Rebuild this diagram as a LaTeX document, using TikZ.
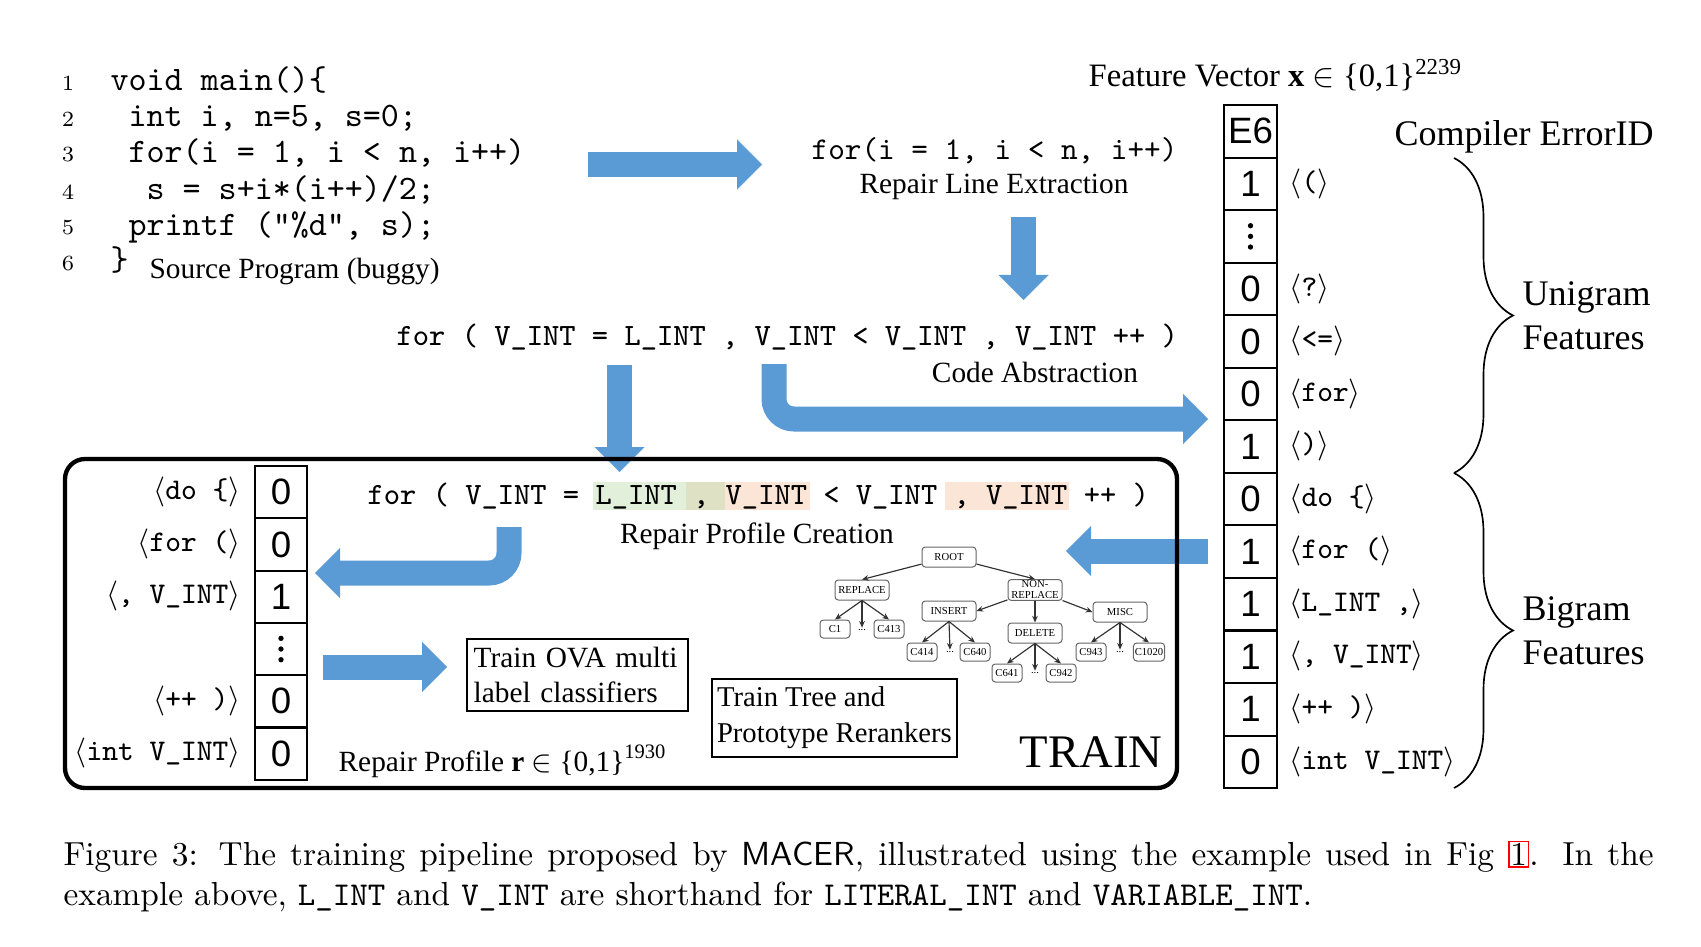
\documentclass[tikz,border=0pt]{standalone}
\usepackage{fontspec}
\newfontfamily\timesfont{Liberation Serif}
\newfontfamily\arialfont{Liberation Sans}
\usetikzlibrary{arrows.meta, calc, positioning, backgrounds, decorations.pathreplacing}
\definecolor{arrowblue}{HTML}{5B9BD5}
\definecolor{hlgreen}{HTML}{E2EFDA}
\definecolor{hlorange}{HTML}{FBE5D6}
\definecolor{hlmix}{HTML}{DEE1C3}
\setlength{\fboxsep}{0.2pt}
\setlength{\fboxrule}{0.5pt}
\tikzset{src line/.style={font=\ttfamily\fontsize{10.3}{12}\selectfont,anchor=mid west,inner sep=0pt}}
\tikzset{line number/.style={font=\fontsize{6.5}{7}\selectfont,inner sep=0pt}}
\tikzset{abs line/.style={font=\ttfamily\fontsize{9.3}{11}\selectfont,anchor=mid west,inner sep=0pt}}
\tikzset{stage label/.style={font=\timesfont\fontsize{8.8}{10.5}\selectfont,inner sep=0pt}}
\tikzset{big label/.style={font=\timesfont\fontsize{10.8}{13.2}\selectfont,inner sep=0pt}}
\tikzset{vec cell/.style={draw,line width=0.6pt,minimum width=15.8pt,minimum height=15.75pt,inner sep=0pt,font=\arialfont\fontsize{11}{13}\selectfont}}
\tikzset{feat label/.style={font=\ttfamily\fontsize{9}{11}\selectfont,inner sep=0pt}}
\tikzset{task box/.style={draw,line width=0.6pt,anchor=north west,align=left,inner xsep=2pt,inner ysep=2.4pt,font=\timesfont\fontsize{8.8}{10.5}\selectfont}}
\tikzset{tree node/.style={draw=black!60,rounded corners=1pt,line width=0.3pt,minimum width=16.2pt,minimum height=6pt,inner sep=0.4pt,align=center,font=\timesfont\fontsize{3.2}{3.3}\selectfont}}
\tikzset{leaf node/.style={tree node,minimum width=9pt,minimum height=5.4pt}}
\tikzset{tree dots/.style={inner sep=0.3pt,font=\timesfont\fontsize{3.2}{3.3}\selectfont}}
\tikzset{tree edge/.style={-{Stealth[length=2pt,width=1.7pt]},line width=0.35pt,black!80}}
\tikzset{block arrow/.style={draw=arrowblue,line width=7.5pt,-{Triangle[width=15pt,length=7.5pt,line width=0.01pt]}}}
\tikzset{feat brace/.style={decorate,decoration={brace,amplitude=17.7pt,aspect=0.5},line width=0.5pt}}

\begin{document}
\begin{tikzpicture}[x=0.3pt,y=-0.3pt]
\useasboundingbox (0,0) rectangle (1701,947);

% source program
\foreach \n/\y in {1/83.5,2/119,3/155,4/192,5/228,6/263.6}
    \node[line number] (ln\n) at (68,\y) {\n};
\node[src line] (src1) at (110,83.5) {void main()\{};
\node[src line] (src2) at (128,119) {int i, n=5, s=0;};
\node[src line] (src3) at (128,155) {for(i = 1, i < n, i++)};
\node[src line] (src4) at (146,192) {s = s+i*(i++)/2;};
\node[src line] (src5) at (128,228) {printf ("\%d", s);};
\node[src line] (src6) at (110,263.6) {\}};
\node[stage label, anchor=mid west] (srccap) at (149,271) {Source Program (buggy)};

% repair line and abstraction
\node[src line, font=\ttfamily\fontsize{9.5}{11}\selectfont] (repline) at (811,152) {for(i = 1, i < n, i++)};
\node[stage label] (replinecap) at (994,187) {Repair Line Extraction};
\node[abs line] (absline) at (396,338.5) {for ( V\_INT = L\_INT , V\_INT < V\_INT , V\_INT ++ )};
\node[stage label] (abscap) at (1035,372) {Code Abstraction};

% feature vector
\node[stage label, anchor=mid west, font=\timesfont\fontsize{9.8}{12}\selectfont] (fvcap) at (1088,79) {Feature Vector \textbf{x} $\in$ \{0,1\}\textsuperscript{2239}};
\foreach \v [count=\i from 0] in {E6,1,{},0,0,0,1,0,1,1,1,1,0}
    \node[vec cell] (fv\i) at (1250.5,{105+52.55*(\i+0.5)}) {\v};
\foreach \d in {-1,0,1}
    \fill ([yshift=\d*3.2pt]fv2.center) circle (0.8pt);
\foreach \i/\t in {1/{$\langle$($\rangle$},3/{$\langle$?$\rangle$},4/{$\langle$<=$\rangle$},5/{$\langle$for$\rangle$},6/{$\langle$)$\rangle$},7/{$\langle$do \{$\rangle$},8/{$\langle$for ($\rangle$},9/{$\langle$L\_INT ,$\rangle$},10/{$\langle$, V\_INT$\rangle$},11/{$\langle$++ )$\rangle$},12/{$\langle$int V\_INT$\rangle$}}
    \node[feat label, anchor=mid west] (fl\i) at (1289,{105+52.55*(\i+0.5)}) {\t};
\node[big label] (errcap) at (1524,137) {Compiler ErrorID};
\draw[feat brace] (1454,158) -- (1454,473);
\draw[feat brace] (1454,473) -- (1454,788);
\node[big label, anchor=west, align=left] (unicap) at (1522,316) {Unigram\\Features};
\node[big label, anchor=west, align=left] (bicap) at (1522,631) {Bigram\\Features};

% block arrows
\coordinate (a1s) at (588,164.5);  \coordinate (a1e) at (762,164.5);
\coordinate (a2s) at (1023.5,217); \coordinate (a2e) at (1023.5,300);
\coordinate (a3s) at (619.5,365);  \coordinate (a3e) at (619.5,472);
\coordinate (a4s) at (774,364);    \coordinate (a4e) at (1208,419);
\coordinate (a5s) at (509,527);    \coordinate (a5e) at (315,573);
\coordinate (a6s) at (1208,551);   \coordinate (a6e) at (1066,551);
\coordinate (a7s) at (323,667);    \coordinate (a7e) at (447,667);
\draw[block arrow] (a1s) -- (a1e);
\draw[block arrow] (a2s) -- (a2e);
\draw[block arrow] (a3s) -- (a3e);
\draw[block arrow, rounded corners=6pt] (a4s) |- (a4e);
\draw[block arrow, rounded corners=6pt] (a5s) |- (a5e);
\draw[block arrow] (a6s) -- (a6e);
\draw[block arrow] (a7s) -- (a7e);

% train box
\draw[line width=1.3pt, rounded corners=6pt] (65,459) rectangle (1177,788);
\node[abs line] (profline) at (367,497) {for ( V\_INT = L\_INT , V\_INT < V\_INT , V\_INT ++ )};
\begin{scope}[on background layer]
\fill[hlgreen] ([xshift=13.9*4.8825pt]profline.south west) rectangle ([xshift=19.6*4.8825pt]profline.north west);
\fill[hlmix] ([xshift=19.6*4.8825pt]profline.south west) rectangle ([xshift=22*4.8825pt]profline.north west);
\fill[hlorange] ([xshift=22*4.8825pt]profline.south west) rectangle ([xshift=27.25*4.8825pt]profline.north west);
\fill[hlorange] ([xshift=35.5*4.8825pt]profline.south west) rectangle ([xshift=43.15*4.8825pt]profline.north west);
\end{scope}
\node[stage label] (profcap) at (757,536) {Repair Profile Creation};
\foreach \v [count=\i from 0] in {0,0,1,{},0,0}
    \node[vec cell] (rp\i) at (281,{466+52.3*(\i+0.5)}) {\v};
\foreach \d in {-1,0,1}
    \fill ([yshift=\d*3.2pt]rp3.center) circle (0.8pt);
\foreach \i/\t in {0/{$\langle$do \{$\rangle$},1/{$\langle$for ($\rangle$},2/{$\langle$, V\_INT$\rangle$},4/{$\langle$++ )$\rangle$},5/{$\langle$int V\_INT$\rangle$}}
    \node[feat label, anchor=mid east] (pl\i) at (241,{466+52.3*(\i+0.5)}) {\t};
\node[stage label, anchor=mid west] (rpcap) at (338,764) {Repair Profile \textbf{r} $\in$ \{0,1\}\textsuperscript{1930}};
\node[task box, text width=62.4pt] (ova) at (466,638) {Train OVA multi\\label classifiers};
\node[task box, inner xsep=1.5pt, font=\timesfont\fontsize{8.6}{10.8}\selectfont] (rerank) at (711,678) {Train Tree and\\Prototype Rerankers};
\node[font=\timesfont\fontsize{14}{16}\selectfont, inner sep=0pt] (trainlbl) at (1091,752) {TRAIN};

% tree of repair classes
\node[tree node] (root) at (949,557) {ROOT};
\node[tree node] (replace) at (862,590) {REPLACE};
\node[tree node] (nonrep) at (1035,590) {NON-\\REPLACE};
\node[tree node] (insert) at (949,611) {INSERT};
\node[tree node] (misc) at (1120,612) {MISC};
\node[tree node] (delete) at (1035,633) {DELETE};
\node[leaf node] (c1) at (835,629) {C1};
\node[tree dots] (rdots) at (862,630) {...};
\node[leaf node] (c413) at (889,629) {C413};
\node[leaf node] (c414) at (922,652) {C414};
\node[tree dots] (idots) at (950,652) {...};
\node[leaf node] (c640) at (975,652) {C640};
\node[leaf node] (c641) at (1007,673) {C641};
\node[tree dots] (ddots) at (1035,673) {...};
\node[leaf node] (c942) at (1061,673) {C942};
\node[leaf node] (c943) at (1091,652) {C943};
\node[tree dots] (mdots) at (1120,652) {...};
\node[leaf node] (c1020) at (1149,652) {C1020};
\draw[tree edge] (root) -- (replace.north);
\draw[tree edge] (root) -- (nonrep.north);
\draw[tree edge] (nonrep) -- (insert.east);
\draw[tree edge] (nonrep) -- (delete);
\draw[tree edge] (nonrep) -- (misc.west);
\foreach \p/\c in {replace/c1,replace/rdots,replace/c413,insert/c414,insert/idots,insert/c640,delete/c641,delete/ddots,delete/c942,misc/c943,misc/mdots,misc/c1020}
    \draw[tree edge] (\p.south) -- (\c.north);

% caption
\node[anchor=north west, text width=477pt, align=justify, inner sep=0pt, font=\fontsize{10}{12}\selectfont] (caption) at (63,840) {Figure 3: The training pipeline proposed by \textsf{MACER}, illustrated using the example used in Fig \fcolorbox{red}{white}{1}. In the\linebreak example above, \texttt{L\_INT} and \texttt{V\_INT} are shorthand for \texttt{LITERAL\_INT} and \texttt{VARIABLE\_INT}.};
\end{tikzpicture}
\end{document}
